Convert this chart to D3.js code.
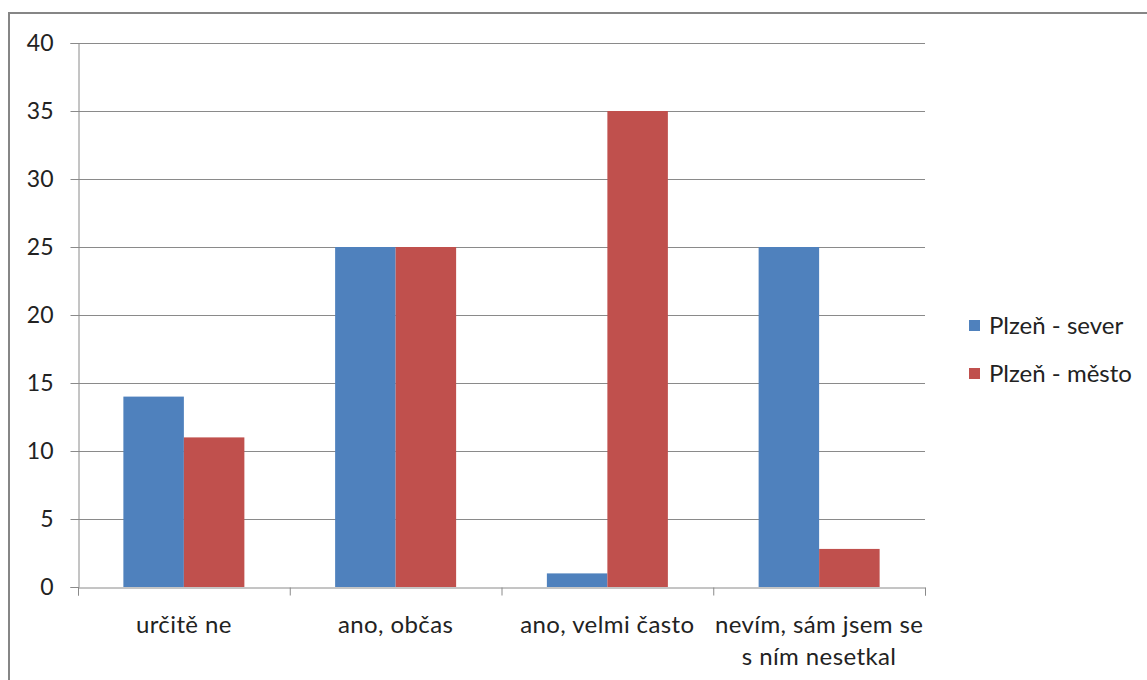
<!DOCTYPE html>
<html>
<head>
<meta charset="utf-8">
<script src="https://cdn.jsdelivr.net/npm/d3@7"></script>
<style>
  body { margin: 0; background: #fff; }
  text { font-family: Lato, "Open Sans", sans-serif; fill: #222; }
</style>
</head>
<body>
<div class="chart"></div>
<script>
const categories = ["určitě ne", "ano, občas", "ano, velmi často", "nevím, sám jsem se|s ním nesetkal"];
const seriesNames = ["Plzeň - sever", "Plzeň - město"];
const sever = [14, 25, 1, 25];
const mesto = [11, 25, 35, 2.8];
const yTicks = [0, 5, 10, 15, 20, 25, 30, 35, 40];
const colors = ["#4F81BD", "#C0504D"];

const width = 1147, height = 680;
const margin = { top: 43, right: 222, bottom: 93, left: 78 };

const svg = d3.select(".chart").append("svg")
    .attr("width", width)
    .attr("height", height);

// outer frame
svg.append("rect")
    .attr("x", 9).attr("y", 13)
    .attr("width", width + 20).attr("height", height + 20)
    .attr("fill", "none")
    .attr("stroke", "#868686")
    .attr("stroke-width", 2);

const x = d3.scaleBand()
    .domain(d3.range(categories.length))
    .range([margin.left, width - margin.right]);

const y = d3.scaleLinear()
    .domain([0, 40])
    .range([height - margin.bottom, margin.top]);

// gridlines
svg.append("g")
    .selectAll("line")
    .data(yTicks.slice(1))
    .enter().append("line")
    .attr("x1", margin.left).attr("x2", width - margin.right)
    .attr("y1", d => Math.round(y(d)) + 0.5).attr("y2", d => Math.round(y(d)) + 0.5)
    .attr("stroke", "#8a8a8a");

// bars
const bw = x.bandwidth() / 3.5;
const data = [sever, mesto];
data.forEach((vals, s) => {
    svg.append("g").selectAll("rect")
        .data(vals)
        .enter().append("rect")
        .attr("x", (d, i) => x(i) + bw * 0.75 + s * bw)
        .attr("y", d => y(d))
        .attr("width", bw)
        .attr("height", d => y(0) - y(d))
        .attr("fill", colors[s]);
});

// y axis
const yAxis = svg.append("g")
    .attr("transform", `translate(${margin.left + 0.5}, 0)`)
    .call(d3.axisLeft(y).tickValues(yTicks).tickSize(8).tickPadding(17));
yAxis.select(".domain").attr("stroke", "#8a8a8a");
yAxis.selectAll(".tick line").attr("stroke", "#8a8a8a");
yAxis.selectAll("text").style("font-size", "23px").attr("fill", "#222");

// x axis
const xEdge = d3.scaleLinear().domain([0, categories.length]).range([margin.left, width - margin.right]);
const xAxis = svg.append("g")
    .attr("transform", `translate(0, ${Math.round(y(0)) + 0.5})`)
    .call(d3.axisBottom(xEdge).ticks(categories.length).tickSize(8).tickFormat(""));
xAxis.select(".domain").attr("stroke", "#8a8a8a");
xAxis.selectAll(".tick line").attr("stroke", "#8a8a8a");

// category labels
const labels = svg.append("g").selectAll("text")
    .data(categories)
    .enter().append("text")
    .attr("x", (d, i) => x(i) + x.bandwidth() / 2)
    .attr("y", height - margin.bottom + 46)
    .attr("text-anchor", "middle")
    .style("font-size", "24px")
    .style("letter-spacing", "0.4px");
labels.each(function(d) {
    const parts = d.split("|");
    const t = d3.select(this);
    parts.forEach((p, j) => {
        t.append("tspan")
            .attr("x", t.attr("x"))
            .attr("dy", j === 0 ? 0 : 32)
            .text(p);
    });
});

// legend
const legend = svg.append("g").attr("transform", "translate(969, 320)");
seriesNames.forEach((name, i) => {
    const g = legend.append("g").attr("transform", `translate(0, ${i * 48})`);
    g.append("rect").attr("width", 11).attr("height", 11).attr("fill", colors[i]);
    g.append("text").attr("x", 20).attr("y", 14)
        .style("font-size", "24px")
        .text(name);
});
</script>
</body>
</html>
